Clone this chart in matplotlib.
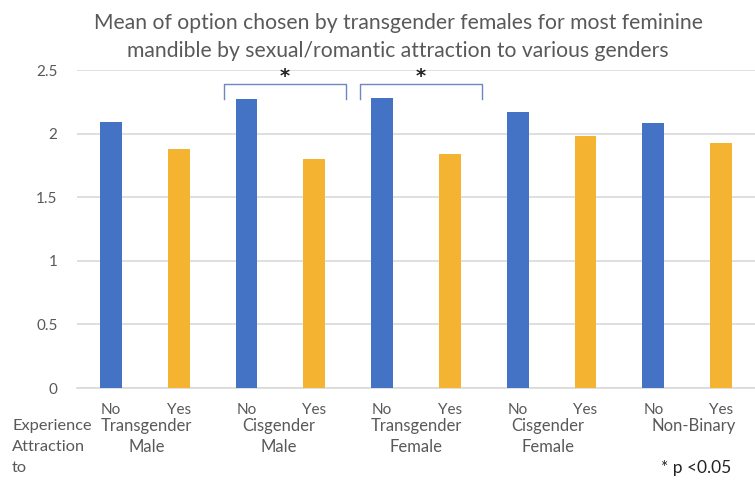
import matplotlib
matplotlib.use("Agg")
import matplotlib.pyplot as plt
import numpy as np

plt.rcParams['font.family'] = ['Lato', 'DejaVu Sans']

title_lines = ["Mean of option chosen by transgender females for most feminine",
               "mandible by sexual/romantic attraction to various genders"]
bar_labels = ["No", "Yes"] * 5
groups = ["Transgender\nMale", "Cisgender\nMale", "Transgender\nFemale", "Cisgender\nFemale", "Non-Binary"]
values = [2.09, 1.88, 2.27, 1.80, 2.28, 1.84, 2.17, 1.98, 2.08, 1.93]
yticks = [0, 0.5, 1, 1.5, 2, 2.5]
ytick_labels = ["0", "0.5", "1", "1.5", "2", "2.5"]
sig_pairs = [(2, 3), (4, 5)]

BLUE = "#4472C4"
GOLD = "#F4B331"
GRAY = "#595959"

W, H = 755, 487
fig = plt.figure(figsize=(W / 100, H / 100), dpi=100)
ax = fig.add_axes([77 / W, 99 / H, 678 / W, 318 / H])

x = np.arange(len(values))
colors = [BLUE if i % 2 == 0 else GOLD for i in range(len(values))]
ax.bar(x, values, width=0.32, color=colors, zorder=3)

ax.set_xlim(-0.5, len(values) - 0.5)
ax.set_ylim(0, 2.5)
ax.set_yticks(yticks)
ax.set_yticklabels(ytick_labels)
ax.yaxis.grid(True, color="#D9D9D9", linewidth=1.2, zorder=0)
ax.tick_params(axis='y', length=0, pad=14, labelsize=11, labelcolor=GRAY)
ax.set_xticks(x)
ax.set_xticklabels(bar_labels)
ax.tick_params(axis='x', length=0, pad=10.5, labelsize=11, labelcolor=GRAY)
for s in ["top", "right", "left"]:
    ax.spines[s].set_visible(False)
ax.spines["bottom"].set_color("#D9D9D9")
ax.spines["bottom"].set_linewidth(1.2)

def px(xp, yp):
    return xp / W, 1 - yp / H

# group labels (two rows under the No/Yes labels)
group_x = [0.53, 2.47, 4.5, 6.44, 8.6]
for gx, g in zip(group_x, groups):
    xf = fig.transFigure.inverted().transform(ax.transData.transform((gx, 0)))[0]
    for k, line in enumerate(g.split("\n")):
        fig.text(xf, 1 - (426 + 21 * k) / H, line, ha="center", va="center",
                 fontsize=12, color=GRAY)

for k, line in enumerate(["Experience", "Attraction", "to"]):
    fig.text(*px(12, 426 + 21 * k), line, ha="left", va="center", fontsize=11.8, color=GRAY)

fig.text(*px(661, 468), "* p <0.05", ha="left", va="center", fontsize=12.5, color="#222222")

# significance brackets
for a, b in sig_pairs:
    x0, x1 = a - 0.33, b + 0.47
    yb, yt = 2.27, 2.39
    ax.plot([x0, x0, x1, x1], [yb, yt, yt, yb], color="#6F86C4", linewidth=1.0,
            solid_joinstyle="round", zorder=4, clip_on=False)
    ax.text((x0 + x1) / 2, 2.445, "*", ha="center", va="center", fontsize=14,
            fontweight="bold", color="#222222", family="DejaVu Sans")

for k, line in enumerate(title_lines):
    fig.text(*px(398, 23 + 28 * k), line, ha="center", va="center", fontsize=15.2,
             color=GRAY)

fig.savefig("out.png", dpi=100, facecolor="white")
